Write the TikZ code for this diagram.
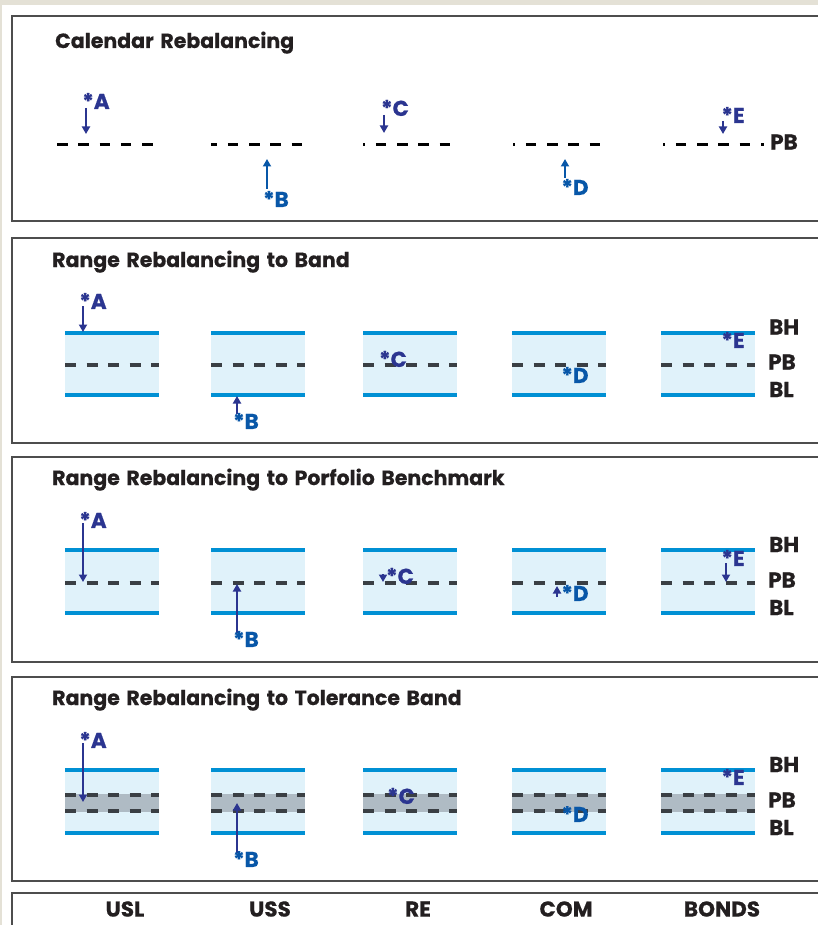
\documentclass[tikz,border=0pt]{standalone}
\usepackage{fontspec}
\setmainfont{Poppins}[BoldFeatures={FakeBold=0.5}]
\newfontfamily\ttlfam{Poppins}[WordSpace=1.5,BoldFeatures={FakeBold=0.5}]
\usetikzlibrary{arrows.meta}
\definecolor{navy}{HTML}{2B3590}
\definecolor{midblue}{HTML}{0857A8}
\definecolor{bandline}{HTML}{0090D4}
\definecolor{bandfill}{HTML}{E0F2FA}
\definecolor{tolgray}{HTML}{AFBBC4}
\definecolor{dashgray}{HTML}{3A3F44}
\definecolor{framegray}{HTML}{4D4D4D}
\definecolor{beige}{HTML}{E4E1D6}
\definecolor{ink}{HTML}{231F20}
\newcommand{\bigf}{\bfseries\fontsize{21.5}{21.5}\selectfont}
\newcommand{\ttlf}{\ttlfam\bfseries\fontsize{20.5}{20.5}\selectfont}
\begin{document}
\begin{tikzpicture}[x=1pt,y=-1pt,
  panel/.style={draw=framegray,line width=1.6pt},
  ttl/.style={anchor=base west,inner sep=0,font=\ttlf,text=ink},
  lvl/.style={anchor=west,inner sep=0,font=\bigf,text=ink},
  asset/.style={inner sep=0,font=\bigf,text=ink},
  mk/.style={inner sep=0,font=\bigf,text=navy},
  mkb/.style={inner sep=0,font=\bigf,text=midblue},
  arr/.style={draw=navy,line width=2.8pt,-{Triangle[width=8pt,length=7.5pt]}},
  arrb/.style={arr,draw=midblue,-{Triangle[width=8pt,length=7.5pt,fill=midblue]}},
  calline/.style={draw=black,line width=3pt,dash pattern=on 10.5pt off 10.8pt},
  pbline/.style={draw=dashgray,line width=3.3pt,dash pattern=on 11pt off 10.5pt},
  bandedge/.style={draw=bandline,line width=4pt}]
\useasboundingbox (0,0) rectangle (818,925);
\clip (0,0) rectangle (818,925);
\fill[white] (0,0) rectangle (818,925);
\fill[beige] (0,0) rectangle (818,5);
\fill[beige] (0,0) rectangle (1.5,925);
% panels
\draw[panel] (12,16) rectangle (830,221);
\draw[panel] (12,238) rectangle (830,443);
\draw[panel] (12,457) rectangle (830,662);
\draw[panel] (12,677) rectangle (830,881);
\draw[panel] (12,893) rectangle (830,940);
% titles
\node[ttl] (t1) at (55,48) {Calendar Rebalancing};
\node[ttl] (t2) at (52,267) {Range Rebalancing to Band};
\node[ttl] (t3) at (52,485) {Range Rebalancing to Porfolio Benchmark};
\node[ttl] (t4) at (52,705) {Range Rebalancing to Tolerance Band};
% ---------- panel 1 : calendar
\draw[calline] (57,145) -- (153.5,145);
\draw[calline,dash phase=4.5pt] (211,145) -- (302.5,145);
\draw[calline,dash phase=8.5pt] (363,145) -- (451,145);
\draw[calline,dash phase=8.5pt] (513,145) -- (601,145);
\draw[calline,dash phase=8.5pt] (663,145) -- (763.5,145);
\node[lvl] (pb1) at (770,142) {PB};
\coordinate (a1s) at (86,108); \coordinate (a1e) at (86,134);
\coordinate (b1s) at (267,189); \coordinate (b1e) at (267,159);
\coordinate (c1s) at (384,115); \coordinate (c1e) at (384,133);
\coordinate (d1s) at (565,178); \coordinate (d1e) at (565,159);
\coordinate (e1s) at (723,121); \coordinate (e1e) at (723,134);
\draw[arr] (a1s) -- (a1e);
\draw[arrb] (b1s) -- (b1e);
\draw[arr] (c1s) -- (c1e);
\draw[arrb] (d1s) -- (d1e);
\draw[arr] (e1s) -- (e1e);
\node[mk] (la1) at (96,101) {*A};
\node[mkb] (lb1) at (276,199) {*B};
\node[mk] (lc1) at (395,108) {*C};
\node[mkb] (ld1) at (575,187) {*D};
\node[mk] (le1) at (733,115) {*E};
% ---------- panel 2 : band
\foreach \xl in {65,211,363,512,661}{
  \fill[bandfill] (\xl,333) rectangle ++(94,62);
  \draw[bandedge] (\xl,333) -- ++(94,0);
  \draw[bandedge] (\xl,395) -- ++(94,0);
  \draw[pbline] (\xl,365) -- ++(94,0);
}
\node[lvl] (bh2) at (769,327) {BH};
\node[lvl] (pb2) at (768,362) {PB};
\node[lvl] (bl2) at (769,389.5) {BL};
\coordinate (a2s) at (83,306); \coordinate (a2e) at (83,332);
\coordinate (b2s) at (237,414); \coordinate (b2e) at (237,396);
\draw[arr] (a2s) -- (a2e);
\draw[arr] (b2s) -- (b2e);
\node[mk] (la2) at (93,301) {*A};
\node[mkb] (lb2) at (246,421) {*B};
\node[mk] (lc2) at (393,359) {*C};
\node[mkb] (ld2) at (575,375) {*D};
\node[mk] (le2) at (733,340) {*E};
% ---------- panel 3 : portfolio benchmark
\foreach \xl in {65,211,363,512,661}{
  \fill[bandfill] (\xl,550) rectangle ++(94,63);
  \draw[bandedge] (\xl,550) -- ++(94,0);
  \draw[bandedge] (\xl,613) -- ++(94,0);
  \draw[pbline] (\xl,583) -- ++(94,0);
}
\node[lvl] (bh3) at (769,544.5) {BH};
\node[lvl] (pb3) at (768,580) {PB};
\node[lvl] (bl3) at (769,607.5) {BL};
\coordinate (a3s) at (83,523); \coordinate (a3e) at (83,582);
\coordinate (b3s) at (237,633); \coordinate (b3e) at (237,584);
\coordinate (c3s) at (383,574); \coordinate (c3e) at (383,582);
\coordinate (d3s) at (557,597); \coordinate (d3e) at (557,586);
\coordinate (e3s) at (726,563); \coordinate (e3e) at (726,582);
\draw[arr] (a3s) -- (a3e);
\draw[arr] (b3s) -- (b3e);
\draw[arr,line width=1.8pt] (c3s) -- (c3e);
\draw[arr,line width=1.8pt] (d3s) -- (d3e);
\draw[arr] (e3s) -- (e3e);
\node[mk] (la3) at (93,520) {*A};
\node[mkb] (lb3) at (246,639) {*B};
\node[mk] (lc3) at (400,576) {*C};
\node[mkb] (ld3) at (575,593) {*D};
\node[mk] (le3) at (733,558) {*E};
% ---------- panel 4 : tolerance band
\foreach \xl in {65,211,363,512,661}{
  \fill[bandfill] (\xl,770) rectangle ++(94,63);
  \fill[tolgray] (\xl,794) rectangle ++(94,18);
  \draw[bandedge] (\xl,770) -- ++(94,0);
  \draw[bandedge] (\xl,833) -- ++(94,0);
  \draw[pbline] (\xl,795) -- ++(94,0);
  \draw[pbline] (\xl,811) -- ++(94,0);
}
\node[lvl] (bh4) at (769,764.5) {BH};
\node[lvl] (pb4) at (768,800) {PB};
\node[lvl] (bl4) at (769,827.5) {BL};
\coordinate (a4s) at (83,743); \coordinate (a4e) at (83,802);
\coordinate (b4s) at (237,853); \coordinate (b4e) at (237,803);
\draw[arr] (a4s) -- (a4e);
\draw[arr] (b4s) -- (b4e);
\node[mk] (la4) at (93,740) {*A};
\node[mkb] (lb4) at (246,859) {*B};
\node[mk] (lc4) at (401,796) {*C};
\node[mkb] (ld4) at (575,814) {*D};
\node[mk] (le4) at (733,777) {*E};
% ---------- bottom labels
\node[asset] (usl) at (125,909) {USL};
\node[asset] (uss) at (270,909) {USS};
\node[asset] (re) at (418,909) {RE};
\node[asset] (com) at (566,909) {COM};
\node[asset] (bonds) at (722,909) {BONDS};
\end{tikzpicture}
\end{document}
